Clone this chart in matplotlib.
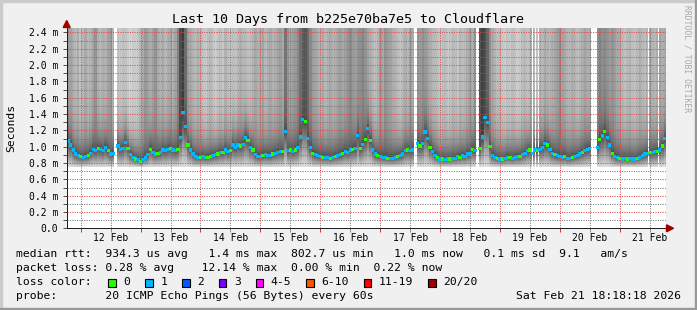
import numpy as np
import matplotlib.pyplot as plt
from matplotlib.patches import Rectangle, Polygon
from matplotlib.ticker import FixedLocator

plt.rcParams['font.family'] = ['DejaVu Sans Mono']

# --- data ------------------------------------------------------------------
# hourly median rtt in ms, first sample at Feb 11 19:00 (hour -5 from Feb 12 00:00)
hour0 = -5
median_ms = [
    1.07, 1.02, 0.96, 0.91, 0.89, 0.88, 0.87, 0.88, 0.89, 0.92,
    0.97, 0.95, 0.98, 0.97, 0.95, 0.99, 0.95, 0.91, 0.92, np.nan,
    1.01, 0.97, 0.98, 1.05, 0.98, 0.90, 0.87, 0.85, 0.84, 0.82,
    0.84, 0.87, 0.90, 0.97, 0.93, 0.91, 0.92, 0.93, 0.96, 0.95,
    0.97, 0.98, 0.96, 0.95, 0.97, 1.11, 1.42, 1.25, 1.02, 0.96,
    0.91, 0.88, 0.87, 0.87, 0.88, 0.87, 0.87, 0.88, 0.89, 0.90,
    0.91, 0.93, 0.93, 0.96, 0.94, 0.95, 1.02, 0.99, 1.02, 1.01,
    1.03, 1.11, 1.08, 0.99, 0.96, 0.90, 0.88, 0.88, 0.89, 0.90,
    0.89, 0.89, 0.91, 0.92, 0.93, 0.94, 0.94, 1.19, 0.95, 0.96,
    0.94, 0.96, 0.99, 1.12, 1.33, 1.31, 1.10, 0.99, 0.92, 0.90,
    0.89, 0.88, 0.87, 0.87, 0.87, 0.86, 0.87, 0.88, 0.89, 0.90,
    0.92, 0.94, 0.93, 0.96, 0.97, 0.98, 1.14, 0.98, 1.03, 1.09,
    1.22, 1.08, 0.96, 0.91, 0.89, 0.88, 0.87, 0.87, 0.86, 0.86,
    0.86, 0.87, 0.88, 0.89, 0.91, 0.95, 0.96, 0.95, 0.96, np.nan,
    1.04, 1.01, 1.04, 1.18, 1.10, 0.99, 0.94, 0.89, 0.87, 0.85,
    0.85, 0.84, 0.85, 0.85, 0.86, 0.86, 0.88, 0.87, 0.89, 0.88,
    0.91, 0.91, 0.97, 0.95, np.nan, 0.98, 1.12, 1.36, 1.30, 1.00,
    0.89, 0.87, 0.86, 0.85, 0.85, 0.86, 0.87, 0.87, 0.86, 0.87,
    0.88, 0.88, 0.90, 0.92, 0.95, 0.96, 0.92, 0.96, 0.95, 0.97,
    0.99, 1.04, 1.02, 0.97, 0.92, 0.90, 0.89, 0.88, 0.87, 0.88,
    0.86, 0.86, 0.87, 0.88, 0.89, 0.91, 0.93, 0.95, 0.97, 0.98,
    np.nan, np.nan, 0.99, 1.09, 1.13, 1.19, 1.11, 1.02, 0.92, 0.88,
    0.87, 0.86, 0.85, 0.86, 0.85, 0.86, 0.85, 0.85, 0.86, 0.87,
    0.89, 0.91, 0.92, 0.93, 0.93, 0.94, 0.94, 0.96, 1.01, 1.10,
]

# lost pings per median sample (0 = green, 1 = light blue)
loss = [int(c) for c in (
    "1111101101110111011011110110101110110111"
    "1011011101111011001101011011101101011101"
    "1101110110101110110111011010110111011010"
    "1011011101110111011010111011010110111011"
    "1101101110110101101110111011011101101110"
    "1101110111011010110110110111011110110101")]

# lightness of the smoke above the median, one value per hour (same hours)
smoke_grey = [
    0.60, 0.64, 0.68, 0.72, 0.68, 0.76, 0.72, 0.66, 0.72, 0.70,
    0.64, 0.58, 0.68, 0.72, 0.68, 0.70, 0.64, 0.62, 0.70, 0.74,
    0.76, 0.78, 0.75, 0.76, 0.80, 0.82, 0.79, 0.80, 0.78, 0.72,
    0.66, 0.60, 0.64, 0.68, 0.63, 0.58, 0.66, 0.70, 0.66, 0.72,
    0.68, 0.66, 0.70, 0.64, 0.52, 0.30, 0.24, 0.42, 0.62, 0.66,
    0.70, 0.72, 0.68, 0.72, 0.76, 0.78, 0.74, 0.72, 0.76, 0.80,
    0.76, 0.74, 0.78, 0.70, 0.74, 0.78, 0.74, 0.76, 0.72, 0.68,
    0.72, 0.72, 0.76, 0.74, 0.70, 0.66, 0.70, 0.68, 0.64, 0.72,
    0.68, 0.66, 0.70, 0.68, 0.64, 0.62, 0.66, 0.46, 0.58, 0.66,
    0.62, 0.60, 0.54, 0.44, 0.36, 0.34, 0.42, 0.54, 0.62, 0.64,
    0.68, 0.70, 0.66, 0.72, 0.68, 0.66, 0.70, 0.68, 0.64, 0.62,
    0.66, 0.62, 0.58, 0.56, 0.60, 0.62, 0.58, 0.56, 0.52, 0.58,
    0.64, 0.68, 0.72, 0.74, 0.70, 0.62, 0.66, 0.58, 0.62, 0.64,
    0.68, 0.70, 0.74, 0.76, 0.72, 0.68, 0.72, 0.64, 0.68, 0.52,
    0.58, 0.60, 0.56, 0.60, 0.64, 0.68, 0.72, 0.72, 0.76, 0.78,
    0.74, 0.74, 0.78, 0.76, 0.72, 0.74, 0.78, 0.70, 0.74, 0.72,
    0.68, 0.64, 0.68, 0.56, 0.44, 0.32, 0.26, 0.30, 0.40, 0.56,
    0.66, 0.70, 0.74, 0.74, 0.78, 0.80, 0.76, 0.78, 0.74, 0.76,
    0.80, 0.78, 0.74, 0.72, 0.76, 0.74, 0.70, 0.72, 0.76, 0.68,
    0.72, 0.66, 0.70, 0.72, 0.68, 0.66, 0.62, 0.56, 0.64, 0.66,
    0.70, 0.72, 0.68, 0.70, 0.74, 0.72, 0.68, 0.64, 0.68, 0.68,
    0.72, 0.60, 0.56, 0.52, 0.56, 0.54, 0.58, 0.62, 0.58, 0.62,
    0.66, 0.68, 0.72, 0.76, 0.72, 0.70, 0.74, 0.76, 0.72, 0.68,
    0.72, 0.74, 0.70, 0.66, 0.70, 0.72, 0.68, 0.64, 0.68, 0.66,
]
smoke_floor = 0.74

# periods without data (hours from Feb 12 00:00)
gaps = [(13.6, 14.4), (133.4, 134.2), (158.6, 159.4), (181.0, 181.4),
        (182.0, 182.4), (183.2, 183.8), (205.1, 206.7), (227.2, 227.6),
        (231.2, 231.6)]

day_labels = ['12 Feb', '13 Feb', '14 Feb', '15 Feb', '16 Feb',
              '17 Feb', '18 Feb', '19 Feb', '20 Feb', '21 Feb']

loss_labels = ['0', '1', '2', '3', '4-5', '6-10', '11-19', '20/20']
loss_colors = ['#26ff00', '#00b8ff', '#0059ff', '#7e00ff', '#ff00ff',
               '#ff5500', '#ff0000', '#a10000']

# --- figure ------------------------------------------------------------------
W, H = 697, 310
fig = plt.figure(figsize=(W / 100, H / 100), dpi=100, facecolor='#f0f0f0')

def fx(x):
    return x / W

def fy(y):
    return 1 - y / H

# bevel frame
fig.patches.append(Rectangle((0, fy(2)), 1, 2 / H, transform=fig.transFigure, color='#cbcbcb', zorder=0))
fig.patches.append(Rectangle((0, 0), 2 / W, 1, transform=fig.transFigure, color='#cbcbcb', zorder=0))
fig.patches.append(Rectangle((0, 0), 1, 2 / H, transform=fig.transFigure, color='#999999', zorder=0))
fig.patches.append(Rectangle((fx(W - 2), 0), 2 / W, 1, transform=fig.transFigure, color='#999999', zorder=0))

ax = fig.add_axes([fx(66.7), 81.7 / H, 599 / W, 200.3 / H])
ax.set_facecolor('white')
ax.set_xlim(-5.6, 234.4)
ax.set_ylim(0, 2.455)

# smoke
med = np.array(median_ms, dtype=float)
hours = hour0 + np.arange(len(med))
yy = np.linspace(0, 2.46, 493)
img = np.ones((len(yy), len(med)))
for k, m in enumerate(med):
    if np.isnan(m):
        continue
    d_t = 1 - smoke_grey[k]
    d_med = max(0.70, d_t)
    d = np.zeros_like(yy)
    up = yy >= m
    d[up] = d_t + (d_med - d_t) * np.exp(-(yy[up] - m) / 0.2)
    lo = (yy < m) & (yy > smoke_floor)
    t = (yy[lo] - smoke_floor) / (m - smoke_floor)
    d[lo] = 0.12 + (d_med - 0.12) * t ** 0.9
    img[:, k] = 1 - d
ax.imshow(img, cmap='gray', vmin=0, vmax=1, origin='lower', aspect='auto',
          interpolation='nearest', zorder=1,
          extent=[hours[0] - 0.5, hours[-1] + 0.5, 0, 2.46])
for a, b in gaps:
    ax.axvspan(a, b, color='white', lw=0, zorder=1.5)

# median coloured by loss
ok = ~np.isnan(med)
cols = np.array([loss_colors[l] for l in loss])
ax.scatter(hours[ok], med[ok], c=cols[ok], marker='s', s=5.5,
           linewidths=0, zorder=4)

# grid / ticks
noon = [12 + 24 * i for i in range(len(day_labels))]
midnight = [24 * i for i in range(len(day_labels))]
ax.xaxis.set_major_locator(FixedLocator(noon))
ax.xaxis.set_minor_locator(FixedLocator(midnight))
ax.set_xticklabels(day_labels)
ax.yaxis.set_major_locator(FixedLocator([0.2 * i for i in range(13)]))
ax.yaxis.set_minor_locator(FixedLocator([0.1 + 0.2 * i for i in range(12)]))
ax.set_yticklabels(['0.0'] + ['%.1f m' % (0.2 * i) for i in range(1, 13)])

ax.tick_params(axis='x', which='major', length=3, width=0.72, color='#8f8f8f',
               labelsize=7, pad=0.5)
ax.tick_params(axis='x', which='minor', length=3, width=0.72, color='#de3030')
ax.tick_params(axis='y', which='both', length=3, width=0.72, color='#555555',
               labelsize=7, pad=3)

dots = (0, (1, 1.4))
red = (0.9, 0.25, 0.25, 0.36)
grey = (0.45, 0.45, 0.45, 0.28)
gkw = dict(ls=dots, lw=0.72)
ax.xaxis.grid(True, which='major', color=grey, **gkw)
ax.xaxis.grid(True, which='minor', color=red, **gkw)
ax.yaxis.grid(True, which='major', color=red, **gkw)
ax.yaxis.grid(True, which='minor', color=grey, **gkw)
ax.set_axisbelow(False)

for s in ['top', 'right']:
    ax.spines[s].set_visible(False)
for s in ['left', 'bottom']:
    ax.spines[s].set_color('#1f1f1f')
    ax.spines[s].set_linewidth(0.72)
    ax.spines[s].set_zorder(5)

# arrows
fig.patches.append(Polygon([(fx(66.7), fy(20.5)), (fx(63.2), fy(27.5)), (fx(70.2), fy(27.5))],
                           closed=True, transform=fig.transFigure, color='#a00000', zorder=6))
fig.patches.append(Polygon([(fx(673.5), fy(228.3)), (fx(666.5), fy(224.8)), (fx(666.5), fy(231.8))],
                           closed=True, transform=fig.transFigure, color='#a00000', zorder=6))

# texts
fig.text(fx(348.5), fy(19), 'Last 10 Days from b225e70ba7e5 to Cloudflare',
         fontsize=9.6, ha='center', va='center')
fig.text(fx(11), fy(128), 'Seconds', rotation=90, fontsize=8.2,
         ha='center', va='center')
fig.text(fx(687), fy(59), 'RRDTOOL / TOBI OETIKER', rotation=270, fontsize=5.8,
         color='#a8a8a8', ha='center', va='center')

lx = 16
fs = 8.2
cw = 6.86
fig.text(fx(lx), fy(254.3),
         'median rtt:  934.3 us avg   1.4 ms max  802.7 us min   1.0 ms now   0.1 ms sd  9.1   am/s',
         fontsize=fs, va='center')
fig.text(fx(lx), fy(268.3),
         'packet loss: 0.28 % avg    12.14 % max  0.00 % min  0.22 % now',
         fontsize=fs, va='center')
fig.text(fx(lx), fy(282.3), 'loss color:', fontsize=fs, va='center')
x = 123.3
for lab, col in zip(loss_labels, loss_colors):
    fig.patches.append(Rectangle((fx(x - 15), fy(286.5)), 7.5 / W, 8 / H,
                                 transform=fig.transFigure, facecolor=col,
                                 edgecolor='black', lw=0.8, zorder=3))
    fig.text(fx(x), fy(282.3), lab, fontsize=fs, va='center')
    x += len(lab) * cw + 30
fig.text(fx(lx), fy(296), 'probe:       20 ICMP Echo Pings (56 Bytes) every 60s',
         fontsize=fs, va='center')
fig.text(fx(681), fy(296), 'Sat Feb 21 18:18:18 2026', fontsize=fs,
         va='center', ha='right')

fig.savefig('out.png', dpi=100, facecolor=fig.get_facecolor())
